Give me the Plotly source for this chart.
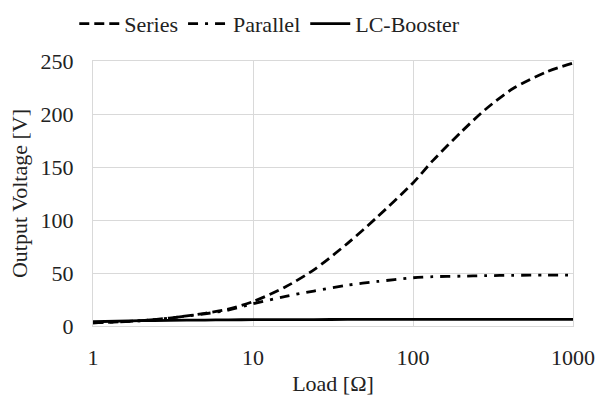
import plotly.graph_objects as go

load = [1, 2, 3, 5, 7, 10, 16, 24, 39, 60, 100, 133, 200, 282, 422, 690, 1000]
series_v = [3, 5, 7.5, 12, 16, 23, 37, 53, 78, 103, 135, 156, 183, 204, 224, 240, 248]
parallel_v = [3, 5, 7.5, 11.5, 15, 21, 28, 33, 38.5, 42, 45.5, 46.5, 47, 47.5, 47.8, 48, 48]
lc_v = [4, 5, 5.3, 5.6, 5.8, 6, 6.1, 6.1, 6.2, 6.2, 6.2, 6.2, 6.3, 6.3, 6.3, 6.3, 6.3]

x_ticks = [1, 10, 100, 1000]
x_tick_labels = ["1", "10", "100", "1000"]
y_ticks = [0, 50, 100, 150, 200, 250]

font = "Times New Roman, Liberation Serif, DejaVu Serif, serif"
fs = 22

fig = go.Figure()
fig.add_trace(go.Scatter(x=load, y=series_v, mode="lines", name="Series",
                         line=dict(color="black", width=2.8, dash="10px,5px", shape="spline", smoothing=0.8)))
fig.add_trace(go.Scatter(x=load, y=parallel_v, mode="lines", name="Parallel",
                         line=dict(color="black", width=2.8, dash="10px,7px,3px,7px", shape="spline", smoothing=0.8)))
fig.add_trace(go.Scatter(x=load, y=lc_v, mode="lines", name="LC-Booster",
                         line=dict(color="black", width=2.8, shape="spline", smoothing=0.8)))

fig.update_layout(
    width=596, height=396,
    margin=dict(l=93, r=23, t=61, b=70, autoexpand=False),
    paper_bgcolor="white", plot_bgcolor="white",
    font=dict(family=font, size=fs, color="#222"),
    showlegend=True,
    legend=dict(orientation="h", x=-0.039, xanchor="left", y=1.14, yanchor="middle",
                font=dict(family=font, size=fs, color="#222"),
                itemwidth=40, tracegroupgap=0, bgcolor="rgba(0,0,0,0)"),
    xaxis=dict(type="log", range=[0, 3], tickvals=x_ticks, ticktext=x_tick_labels,
               showgrid=True, gridcolor="#d9d9d9", gridwidth=1,
               showline=True, linecolor="#d9d9d9", linewidth=1, mirror=True,
               ticks="", ticklabelstandoff=12, automargin=False,
               title=dict(text="Load [Ω]", font=dict(family=font, size=fs), standoff=6)),
    yaxis=dict(range=[0, 250], tickvals=y_ticks,
               showgrid=True, gridcolor="#d9d9d9", gridwidth=1,
               showline=True, linecolor="#d9d9d9", linewidth=1, mirror=True,
               zeroline=False, ticks="", ticklabelstandoff=14, automargin=False,
               title=dict(text="Output Voltage [V]", font=dict(family=font, size=fs), standoff=6)),
)

fig.write_html("out.html", config={"displayModeBar": False},
               post_script="document.body.style.margin='0';")
